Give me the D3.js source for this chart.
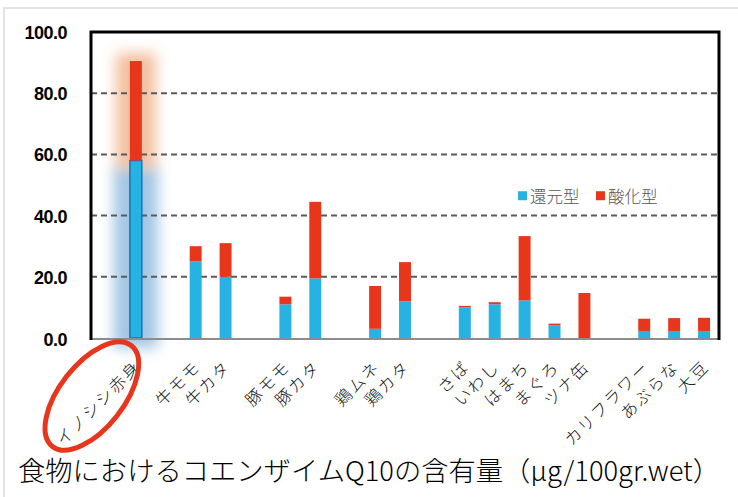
<!DOCTYPE html>
<html lang="ja">
<head>
    <meta charset="UTF-8">
    <title>コエンザイムQ10の含有量</title>
    <script src="https://d3js.org/d3.v7.min.js"></script>
    <style>
        body {
            margin: 0;
            background-color: #ffffff;
        }
        .ytick text {
            font-family: 'Liberation Sans', Arial, sans-serif;
            font-weight: bold;
            font-size: 18px;
            fill: #000;
        }
        .xlabel {
            font-family: 'Noto Sans CJK JP', sans-serif;
            font-weight: 200;
            font-size: 16.5px;
            fill: #111;
        }
        .legend text {
            font-family: 'Noto Sans CJK JP', sans-serif;
            font-size: 16.5px;
            font-weight: 300;
            fill: #555;
        }
        .title {
            font-family: 'Noto Sans CJK JP', sans-serif;
            font-size: 27px;
            font-weight: 300;
            fill: #000;
        }
    </style>
</head>
<body>
    <svg id="chart"></svg>

    <script>
        // Values (空の項目はグループの区切り)
        const categories = ["", "イノシシ赤身", "", "牛モモ", "牛カタ", "", "豚モモ", "豚カタ", "",
            "鶏ムネ", "鶏カタ", "", "さば", "いわし", "はまち", "まぐろ", "ツナ缶", "",
            "カリフラワー", "あぶらな", "大豆"];
        const reduced = [0, 58, 0, 25, 20, 0, 11, 19.5, 0, 3, 12, 0, 10, 11, 12.3, 4.1, 0, 0, 2.3, 2.3, 2.3];
        const oxidized = [0, 32.5, 0, 5, 11, 0, 2.5, 25, 0, 14, 12.8, 0, 0.5, 0.7, 21, 0.6, 14.7, 0, 4, 4.2, 4.3];
        const seriesNames = ["還元型", "酸化型"];
        const yTicks = [0, 20, 40, 60, 80, 100];
        const highlight = 1;
        const titleText = "食物におけるコエンザイムQ10の含有量（μg/100gr.wet）";

        const W = 738, H = 497;
        const plot = { left: 91, right: 719, top: 32, bottom: 338 };
        const colors = { reduced: "#26b3e3", oxidized: "#e8361c" };

        const svg = d3.select("#chart")
            .attr("width", W)
            .attr("height", H);

        // outer light frame
        svg.append("rect")
            .attr("x", 4).attr("y", 8)
            .attr("width", W + 20).attr("height", H + 20)
            .attr("fill", "none")
            .attr("stroke", "#e3e3e3")
            .attr("stroke-width", 2);

        const x = d3.scaleBand()
            .domain(d3.range(categories.length))
            .range([plot.left, plot.right])
            .paddingInner(0.6)
            .paddingOuter(0.3);

        const y = d3.scaleLinear()
            .domain([0, 100])
            .range([plot.bottom, plot.top]);

        // glow filter for the highlighted bar
        const defs = svg.append("defs");
        const blur = defs.append("filter")
            .attr("id", "glow")
            .attr("x", "-100%").attr("y", "-50%")
            .attr("width", "300%").attr("height", "200%");
        blur.append("feGaussianBlur").attr("stdDeviation", "7 7");

        const cx = x(highlight) + x.bandwidth() / 2;
        svg.append("rect")
            .attr("x", cx - 22)
            .attr("y", y(reduced[highlight]) + 6)
            .attr("width", 44)
            .attr("height", y(0) - y(reduced[highlight]) + 4)
            .attr("fill", "#8ab8dd")
            .attr("opacity", 0.8)
            .attr("filter", "url(#glow)");
        svg.append("rect")
            .attr("x", cx - 20)
            .attr("y", y(reduced[highlight] + oxidized[highlight]) - 8)
            .attr("width", 40)
            .attr("height", y(reduced[highlight]) - y(reduced[highlight] + oxidized[highlight]) + 16)
            .attr("fill", "#eeaa80")
            .attr("opacity", 0.75)
            .attr("filter", "url(#glow)");

        // grid lines
        svg.append("g")
            .selectAll("line")
            .data(yTicks.filter(d => d > 0 && d < 100))
            .enter()
            .append("line")
            .attr("x1", plot.left).attr("x2", plot.right)
            .attr("y1", d => y(d)).attr("y2", d => y(d))
            .attr("stroke", "#5a5a5a")
            .attr("stroke-width", 2)
            .attr("stroke-dasharray", "6,4");

        // y axis labels
        const yAxis = svg.append("g")
            .attr("class", "ytick")
            .attr("transform", `translate(67,0)`)
            .call(d3.axisLeft(y).tickValues(yTicks).tickFormat(d3.format(".1f")).tickSize(0).tickPadding(0));
        yAxis.select(".domain").remove();
        yAxis.selectAll("text").attr("letter-spacing", "-0.5px").attr("dy", "0.36em");
        yAxis.selectAll(".tick").filter(d => d === 0).attr("transform", `translate(0,${y(0) + 2})`);

        // stacked bars
        const stacked = categories.map((c, i) => ({ i, c, r: reduced[i], o: oxidized[i] }))
            .filter(d => d.c !== "");

        svg.append("g")
            .selectAll("rect")
            .data(stacked)
            .enter()
            .append("rect")
            .attr("x", d => x(d.i))
            .attr("y", d => y(d.r))
            .attr("width", x.bandwidth())
            .attr("height", d => y(0) - y(d.r))
            .attr("fill", colors.reduced)
            .attr("stroke", d => d.i === highlight ? "#1c73b5" : "none")
            .attr("stroke-width", 1.5);

        svg.append("g")
            .selectAll("rect")
            .data(stacked.filter(d => d.o > 0))
            .enter()
            .append("rect")
            .attr("x", d => x(d.i))
            .attr("y", d => y(d.r + d.o))
            .attr("width", x.bandwidth())
            .attr("height", d => y(d.r) - y(d.r + d.o))
            .attr("fill", colors.oxidized);

        // frame: bottom grey axis, black left/top/right
        svg.append("line")
            .attr("x1", plot.left).attr("x2", plot.right)
            .attr("y1", plot.bottom + 1).attr("y2", plot.bottom + 1)
            .attr("stroke", "#8c8c8c").attr("stroke-width", 2);
        svg.append("path")
            .attr("d", `M${plot.left},${plot.bottom + 2}V${plot.top}H${plot.right}V${plot.bottom + 2}`)
            .attr("fill", "none")
            .attr("stroke", "#000")
            .attr("stroke-width", 3);

        // category labels
        svg.append("g")
            .selectAll("text")
            .data(stacked)
            .enter()
            .append("text")
            .attr("class", "xlabel")
            .attr("text-anchor", "end")
            .attr("letter-spacing", "2px")
            .attr("transform", d => `translate(${x(d.i) + x.bandwidth() / 2 + 6},${plot.bottom + 30}) rotate(-45)`)
            .text(d => d.c);

        // red ellipse around the highlighted label
        svg.append("ellipse")
            .attr("cx", cx - 44)
            .attr("cy", plot.bottom + 58)
            .attr("rx", 64)
            .attr("ry", 32)
            .attr("transform", `rotate(-52,${cx - 44},${plot.bottom + 58})`)
            .attr("fill", "none")
            .attr("stroke", colors.oxidized)
            .attr("stroke-width", 5);

        // legend
        const legend = svg.append("g")
            .attr("class", "legend")
            .attr("transform", `translate(518,${y(46)})`);
        const lItems = legend.selectAll("g")
            .data(seriesNames)
            .enter()
            .append("g")
            .attr("transform", (d, i) => `translate(${i * 78},0)`);
        lItems.append("rect")
            .attr("x", 0).attr("y", -6)
            .attr("width", 9).attr("height", 9)
            .attr("fill", (d, i) => i === 0 ? colors.reduced : colors.oxidized);
        lItems.append("text")
            .attr("x", 12)
            .attr("y", 0)
            .attr("dy", "0.35em")
            .text(d => d);

        // title
        svg.append("text")
            .attr("class", "title")
            .attr("x", 18)
            .attr("y", 481)
            .attr("textLength", 702)
            .attr("lengthAdjust", "spacingAndGlyphs")
            .text(titleText);
    </script>
</body>
</html>
